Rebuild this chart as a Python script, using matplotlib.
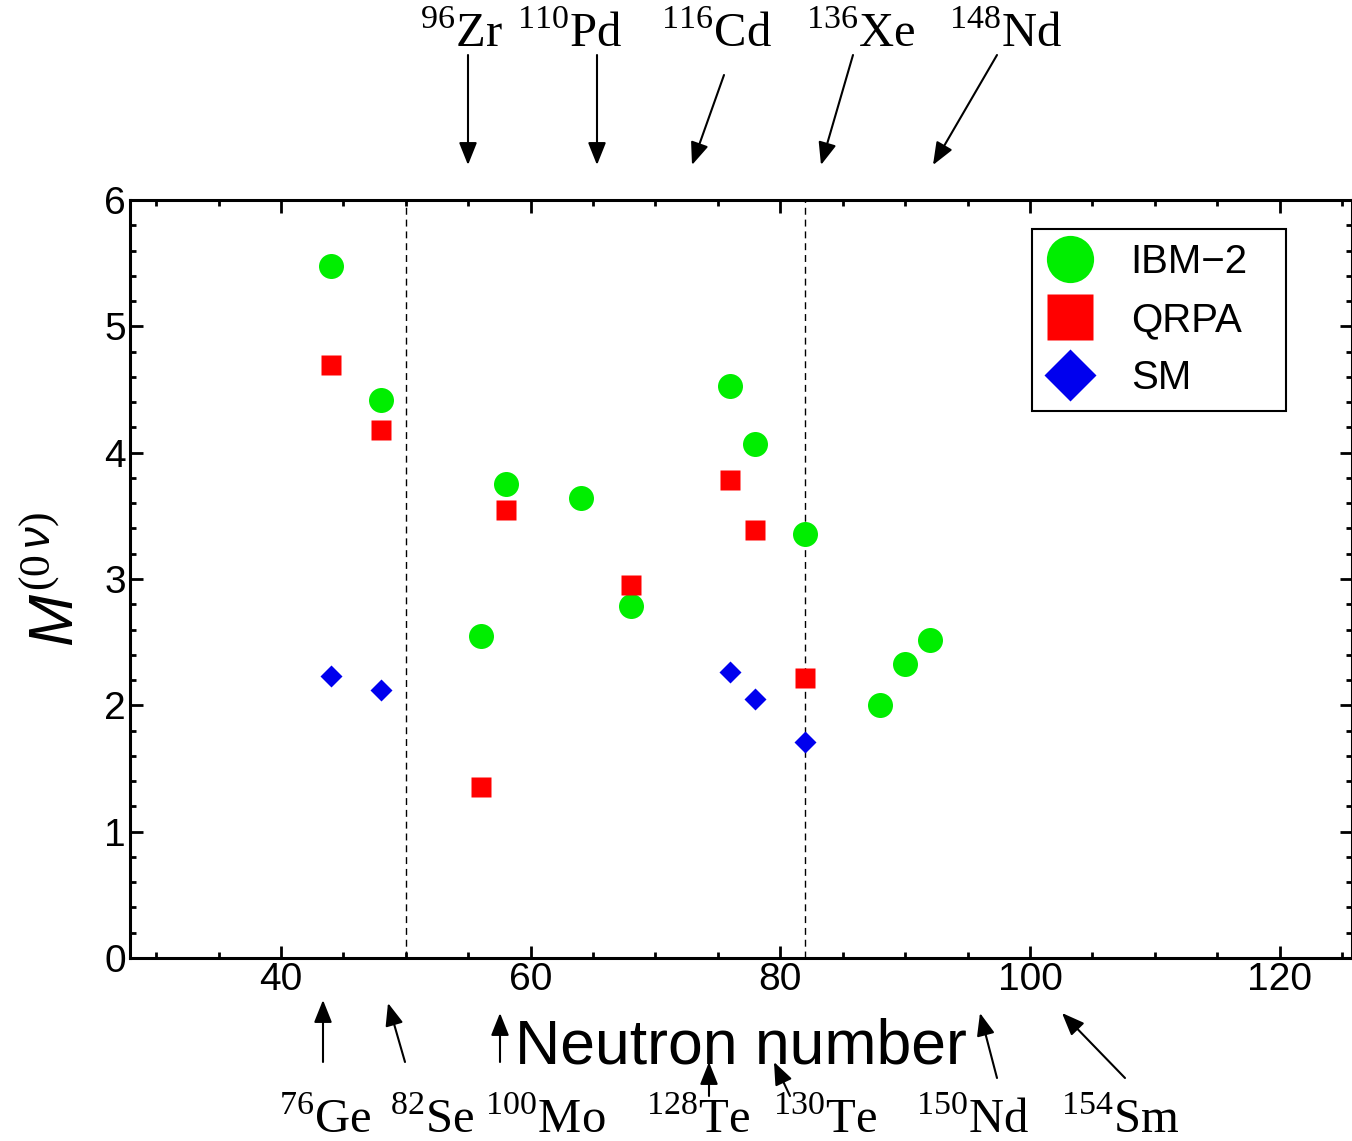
import matplotlib
matplotlib.use("Agg")
import matplotlib.pyplot as plt
from matplotlib.lines import Line2D
from matplotlib.ticker import MultipleLocator

plt.rcParams['font.family'] = ['Liberation Sans', 'DejaVu Sans']
plt.rcParams['mathtext.fontset'] = 'custom'
plt.rcParams['mathtext.rm'] = 'Liberation Serif'
plt.rcParams['mathtext.it'] = 'Liberation Sans:italic'

# ---------------- data ----------------
ibm_n = [44, 48, 56, 58, 64, 68, 76, 78, 82, 88, 90, 92]
ibm_m = [5.48, 4.42, 2.55, 3.75, 3.64, 2.79, 4.53, 4.07, 3.36, 2.00, 2.33, 2.52]

qrpa_n = [44, 48, 56, 58, 68, 76, 78, 82]
qrpa_m = [4.69, 4.18, 1.35, 3.55, 2.95, 3.78, 3.39, 2.22]

sm_n = [44, 48, 76, 78, 82]
sm_m = [2.23, 2.12, 2.26, 2.05, 1.71]

shell_closures = [50, 82]

series_labels = ["IBM\u22122", "QRPA", "SM"]

top_mass = ["96", "110", "116", "136", "148"]
top_elem = ["Zr", "Pd", "Cd", "Xe", "Nd"]
bottom_mass = ["76", "82", "100", "128", "130", "150", "154"]
bottom_elem = ["Ge", "Se", "Mo", "Te", "Te", "Nd", "Sm"]

# ---------------- layout (figure pixels, top-left origin) ----------------
W, H = 1352, 1141
top_label_x = [462, 570, 716, 861, 1006]
top_label_y = 47
top_arrows = [((468, 55), (468, 165)), ((597, 55), (597, 165)),
              ((724, 75), (692, 165)), ((853, 55), (821, 165)),
              ((997, 55), (933, 165))]
bottom_label_x = [325, 432, 545, 698, 825, 973, 1120]
bottom_label_y = 1133
bottom_arrows = [((323, 1062), (323, 1000)), ((405, 1062), (388, 1003)),
                 ((500, 1062), (500, 1013)), ((709, 1096), (709, 1062)),
                 ((790, 1096), (774, 1062)), ((997, 1078), (980, 1013)),
                 ((1125, 1078), (1062, 1013))]

fig = plt.figure(figsize=(W / 100, H / 100), dpi=100)
ax_left, ax_right, ax_top, ax_bottom = 130, 1352, 200, 958
ax = fig.add_axes([ax_left / W, 1 - ax_bottom / H,
                   (ax_right - ax_left) / W, (ax_bottom - ax_top) / H])

for xv in shell_closures:
    ax.axvline(xv, color='black', lw=1.0, ls=(0, (5, 3.5)), zorder=1)

ax.plot(ibm_n, ibm_m, 'o', color='#00ee00', ms=18, mec='none', zorder=3)
ax.plot(qrpa_n, qrpa_m, 's', color='#ff0000', ms=15, mec='none', zorder=3)
ax.plot(sm_n, sm_m, 'D', color='#0000ee', ms=11, mec='none', zorder=3)

ax.set_xlim(27.9, 125.8)
ax.set_ylim(0, 6)
ax.xaxis.set_major_locator(MultipleLocator(20))
ax.xaxis.set_minor_locator(MultipleLocator(5))
ax.yaxis.set_major_locator(MultipleLocator(1))
ax.yaxis.set_minor_locator(MultipleLocator(0.2))
ax.tick_params(which='both', direction='in', top=True, right=True,
               labelsize=28, width=2, pad=3)
ax.tick_params(which='major', length=9)
ax.tick_params(which='minor', length=4)
for sp in ax.spines.values():
    sp.set_linewidth(2.2)

ax.set_xlabel("Neutron number", fontsize=45, labelpad=14)
ax.set_ylabel(r"$M^{(0\,\nu)}$", fontsize=45, labelpad=12)

handles = [
    Line2D([], [], ls='none', marker='o', color='#00ee00', ms=34, mec='none'),
    Line2D([], [], ls='none', marker='s', color='#ff0000', ms=33, mec='none'),
    Line2D([], [], ls='none', marker='D', color='#0000ee', ms=26, mec='none'),
]
leg_x0 = (1032 - ax_left) / (ax_right - ax_left)
leg_w = (1286 - 1032) / (ax_right - ax_left)
leg_top = (ax_bottom - 229) / (ax_bottom - ax_top)
leg = ax.legend(handles, series_labels, loc='upper left', mode='expand',
                bbox_to_anchor=(leg_x0, leg_top - 0.3, leg_w, 0.3),
                borderaxespad=0, fontsize=29, fancybox=False, framealpha=1,
                edgecolor='black', handlelength=1.2, handletextpad=0.9,
                labelspacing=0.5, borderpad=0.35)
leg.get_frame().set_linewidth(1.5)

# isotope labels and arrows
def fp(p):
    return (p[0] / W, 1 - p[1] / H)

for m, e, x in zip(top_mass, top_elem, top_label_x):
    fig.text(x / W, 1 - top_label_y / H, r"$^{%s}$%s" % (m, e),
             family='Liberation Serif', fontsize=35, ha='center', va='baseline')
for m, e, x in zip(bottom_mass, bottom_elem, bottom_label_x):
    fig.text(x / W, 1 - bottom_label_y / H, r"$^{%s}$%s" % (m, e),
             family='Liberation Serif', fontsize=35, ha='center', va='baseline')

for tail, head in top_arrows + bottom_arrows:
    ax.annotate("", xy=fp(head), xytext=fp(tail), xycoords='figure fraction',
                textcoords='figure fraction', annotation_clip=False,
                arrowprops=dict(arrowstyle='-|>,head_length=0.55,head_width=0.22',
                                mutation_scale=25, color='black', lw=1.5,
                                shrinkA=0, shrinkB=0))

fig.savefig("out.png", dpi=100)
